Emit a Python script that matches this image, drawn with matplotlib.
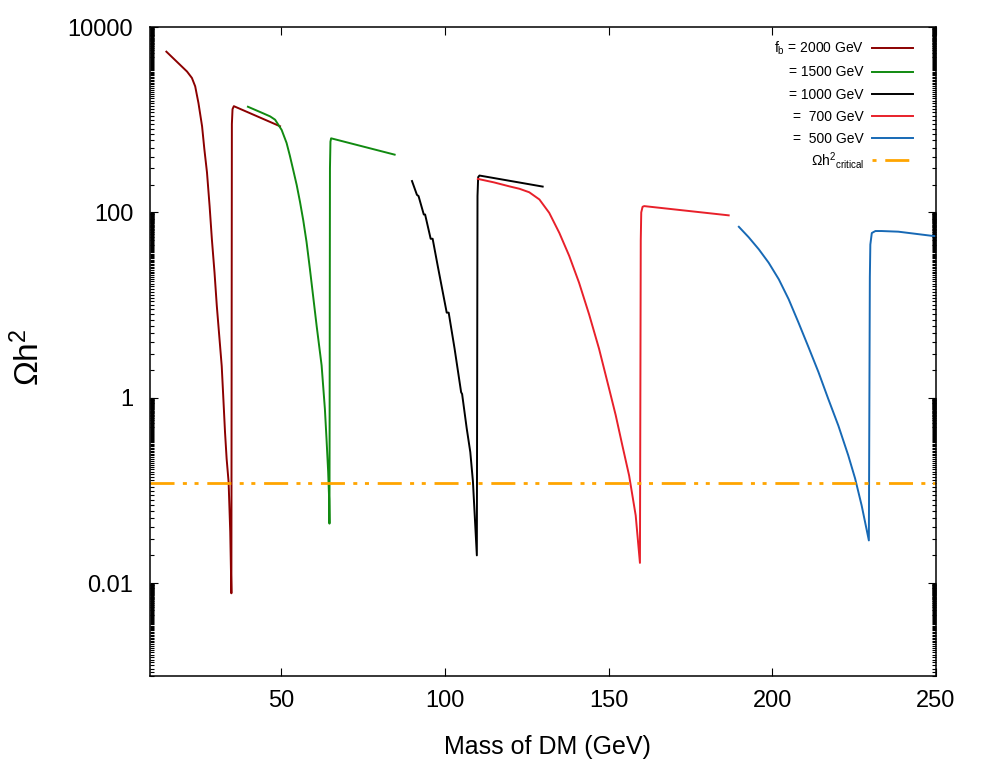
import matplotlib
matplotlib.use('Agg')
import matplotlib.pyplot as plt
from matplotlib.ticker import FixedLocator, FixedFormatter, NullLocator
from matplotlib.lines import Line2D

plt.rcParams['font.family'] = ['Liberation Sans', 'DejaVu Sans']
plt.rcParams['mathtext.fontset'] = 'custom'
plt.rcParams['mathtext.rm'] = 'Liberation Sans'
plt.rcParams['mathtext.it'] = 'Liberation Sans:italic'
plt.rcParams['mathtext.bf'] = 'Liberation Sans:bold'
plt.rcParams['lines.scale_dashes'] = False

# ---------------- data ----------------
x_2000 = [15.0, 21.3, 22.8, 23.8, 24.8, 25.9, 26.6, 27.4, 28.2, 28.9, 29.7, 30.4,
          31.9, 32.4, 32.9, 33.4, 34.0, 34.5, 34.85,
          35.0, 35.2, 35.6, 49.7]
y_2000 = [5420, 3310, 2820, 2290, 1510, 850, 480, 270, 117, 51, 22.5, 9.8,
          2.2, 0.98, 0.43, 0.22, 0.124, 0.036, 0.0078,
          900, 1300, 1400, 850]

x_1500 = [39.9, 44.6, 46.7, 48.2, 50.2, 51.7, 52.7, 53.7, 54.8, 55.8, 56.8, 57.8, 58.8,
          59.8, 60.9, 62.4, 63.4, 63.9, 64.4, 64.7, 64.8,
          64.95, 65.1, 65.3, 84.7]
y_1500 = [1380, 1170, 1085, 1000, 776, 562, 410, 290, 197, 130, 82, 48, 25,
          12.6, 5.9, 2.24, 0.76, 0.36, 0.16, 0.081, 0.044,
          300, 580, 630, 420]

x_1000 = [90.0, 91.5, 92.0, 93.6, 94.0, 95.7, 96.3, 97.9, 100.6, 101.2, 103.0, 105.0,
          105.3, 106.7, 107.8, 108.6, 109.8, 110.0, 110.2, 110.6, 129.9]
y_1000 = [218, 155, 150, 95, 95, 52, 52, 26, 8.3, 8.3, 3.4, 1.15,
          1.1, 0.47, 0.26, 0.126, 0.02, 150, 240, 250, 190]

x_700 = [110.1, 115.0, 120.0, 122.8, 125.8, 128.9, 131.9, 135.0, 138.0, 141.0, 144.1,
         147.1, 150.2, 152.2, 154.2, 156.3, 158.3, 159.6,
         159.85, 160.0, 160.4, 160.9, 186.7]
y_700 = [230, 211, 190, 180, 165, 138, 99, 60, 34, 17.5, 7.9,
         3.4, 1.25, 0.65, 0.31, 0.145, 0.054, 0.0166,
         50, 100, 115, 117, 93]

x_500 = [189.8, 192.8, 195.9, 198.9, 202.0, 205.0, 208.0, 211.1, 214.1, 217.1, 220.2,
         223.2, 225.3, 227.3, 229.5,
         229.8, 229.95, 230.4, 231.5, 233.4, 238.5, 248.6, 250.0]
y_500 = [70, 54, 40, 28.7, 19, 11.6, 6.5, 3.5, 1.9, 0.975, 0.50,
         0.24, 0.135, 0.069, 0.029,
         20, 45, 60, 63, 63, 62, 56, 55.5]

omega_critical = 0.12

labels = ['f$_\\mathrm{b}$ = 2000 GeV', '= 1500 GeV', '= 1000 GeV', '=  700 GeV',
          '=  500 GeV', '\u03a9h$^2$$_\\mathrm{critical}$']
colors = ['#8b0000', '#118a11', '#000000', '#e8202a', '#1769b5', '#ffa500']

x_ticks = [50, 100, 150, 200, 250]
y_ticks = [1e-2, 1, 1e2, 1e4]
y_ticklabels = ['0.01', '1', '100', '10000']

# ---------------- figure ----------------
fig = plt.figure(figsize=(9.81, 7.63), dpi=100)
ax = fig.add_axes([150 / 981, 87 / 763, 786 / 981, 649 / 763])

series = [(x_2000, y_2000), (x_1500, y_1500), (x_1000, y_1000), (x_700, y_700), (x_500, y_500)]
handles = []
for (xs, ys), c, lab in zip(series, colors[:5], labels[:5]):
    h, = ax.plot(xs, ys, color=c, lw=1.4, label=lab, solid_joinstyle='round')
    handles.append(h)

dash_pat = (17.3, 6.0, 2.9, 5.5, 2.9, 6.3)
ax.axhline(omega_critical, color=colors[5], lw=2.0, linestyle=(0, dash_pat),
           dash_capstyle='butt')
crit_handle = Line2D([], [], color=colors[5], lw=2.0,
                     linestyle=(31.7, dash_pat), dash_capstyle='butt')

ax.set_yscale('log')
ax.set_xlim(10, 250)
ax.set_ylim(1e-3, 1e4)

ax.xaxis.set_major_locator(FixedLocator(x_ticks))
ax.xaxis.set_minor_locator(NullLocator())
ax.yaxis.set_major_locator(FixedLocator(y_ticks))
ax.yaxis.set_major_formatter(FixedFormatter(y_ticklabels))
minor = [k * 10.0 ** e for e in (-4, -2, 0, 2) for k in range(2, 100)]
minor = [m for m in minor if 1e-3 <= m <= 1e4 and m not in y_ticks]
ax.yaxis.set_minor_locator(FixedLocator(minor))
ax.yaxis.set_minor_formatter(FixedFormatter([''] * len(minor)))

ax.tick_params(which='both', direction='in', top=True, right=True, width=0.8)
ax.tick_params(which='major', length=6, labelsize=17)
ax.tick_params(axis='y', which='major', pad=12)
ax.tick_params(axis='x', which='major', pad=10)
ax.tick_params(which='minor', length=3)
for s in ax.spines.values():
    s.set_linewidth(1.1)

ax.set_xlabel('Mass of DM (GeV)', fontsize=18)
ax.xaxis.set_label_coords(0.506, -0.091)
ax.set_ylabel('\u03a9h$^2$', fontsize=24)
ax.yaxis.set_label_coords(-0.132, 0.4915)

leg_kw = dict(bbox_transform=fig.transFigure, frameon=False, markerfirst=False,
              fontsize=10, handlelength=2.95, handletextpad=0.6, labelspacing=0.58,
              borderpad=0, borderaxespad=0)
leg1 = ax.legend(handles, labels[:5], loc='upper right',
                 bbox_to_anchor=(913 / 981, 1 - 40 / 763), **leg_kw)
ax.add_artist(leg1)
ax.legend([crit_handle], [labels[5]], loc='center right',
          bbox_to_anchor=(913 / 981, 1 - 160 / 763), **leg_kw)

fig.savefig('out.png', dpi=100)
